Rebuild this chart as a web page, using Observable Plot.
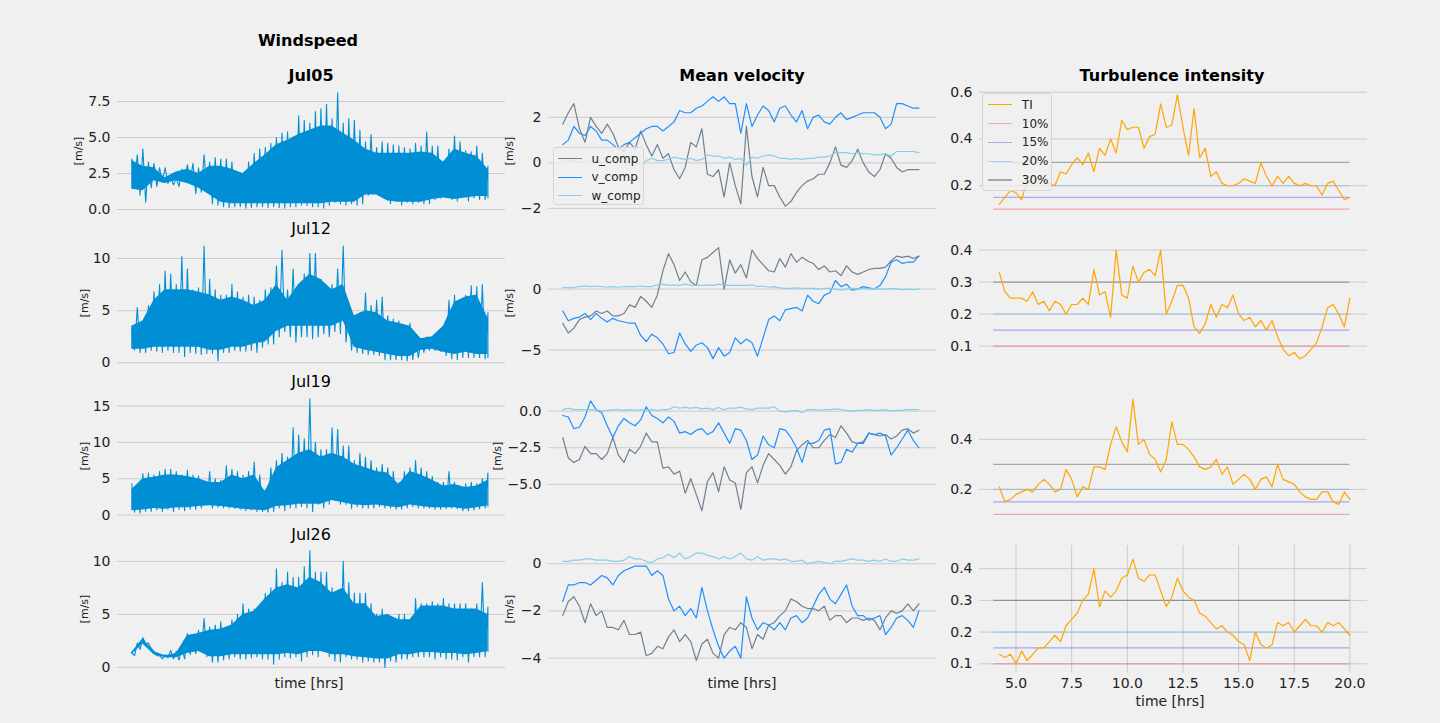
<!DOCTYPE html>
<html><head><meta charset="utf-8">
<script src="https://cdn.jsdelivr.net/npm/d3@7"></script>
<script src="https://cdn.jsdelivr.net/npm/@observablehq/plot@0.6"></script>
<style>
body{margin:0;background:#f0f0f0;}
#fig{position:relative;width:1440px;height:723px;background:#f0f0f0;font-family:"DejaVu Sans",sans-serif;overflow:hidden;}
.t{position:absolute;white-space:nowrap;transform:translate(-50%,-50%);color:#000;font-size:16px;line-height:1;}
.b{font-weight:bold;}
.xl{font-size:14px;color:#222;}
.yl{position:absolute;white-space:nowrap;transform:translate(-50%,-50%) rotate(-90deg);font-size:11px;color:#222;line-height:1;}
.leg{position:absolute;box-sizing:border-box;border:1px solid #d6d6d6;border-radius:3px;background:rgba(240,240,240,0.8);}
.sw{position:absolute;height:1.2px;}
.lt{position:absolute;font-size:12px;color:#222;transform:translateY(-50%);line-height:1;white-space:nowrap;}
</style></head>
<body><div id="fig"></div>
<script>
// ---------- data ----------
const hours = [4,4.25,4.5,4.75,5,5.25,5.5,5.75,6,6.25,6.5,6.75,7,7.25,7.5,7.75,8,8.25,8.5,8.75,9,9.25,9.5,9.75,10,10.25,10.5,10.75,11,11.25,11.5,11.75,12,12.25,12.5,12.75,13,13.25,13.5,13.75,14,14.25,14.5,14.75,15,15.25,15.5,15.75,16,16.25,16.5,16.75,17,17.25,17.5,17.75,18,18.25,18.5,18.75,19,19.25,19.5,19.75,20];
const halfHours = [4,4.5,5,5.5,6,6.5,7,7.5,8,8.5,9,9.5,10,10.5,11,11.5,12,12.5,13,13.5,14,14.5,15,15.5,16,16.5,17,17.5,18,18.5,19,19.5,20];
const days = ["Jul05","Jul12","Jul19","Jul26"];

// windspeed: extremes of the raw signal (spike tips) per quarter hour [m/s]
const ws05_hi = [3.5,3.8,4.2,3.3, 3.2,2.9,2.9,2.3, 2.2,2.8,3.1,3.2, 2.9,3.8,3.3,3.6, 3.5,3.5,3.3,2.5, 2.5,3.3,3.9,4.2, 4.3,4.6,5.0,5.3, 5.4,5.0,6.5,6.2, 6.0,6.8,7.0,7.3, 6.3,8.1,6.0,6.3, 6.2,5.5,4.7,5.2, 4.3,4.7,4.6,4.5, 4.4,4.3,4.2,4.6, 4.4,5.4,4.4,4.4, 3.3,4.2,5.1,4.7, 4.1,4.0,4.4,3.9, 3.0];
const ws05_lo = [1.8,1.0,0.5,1.5, 1.6,1.9,1.8,1.7, 1.6,2.0,2.0,1.1, 1.2,1.5,0.4,0.3, 0.2,0.15,0.2,0.2, 0.1,0.15,0.2,0.2, 0.15,0.2,0.15,0.1, 0.2,0.2,0.3,0.3, 0.2,0.2,0.1,0.3, 0.5,0.4,0.3,0.4, 0.3,0.4,1.0,1.1, 1.0,0.8,0.4,0.6, 0.3,0.5,0.4,0.5, 0.4,0.4,0.7,0.8, 0.9,0.7,0.6,1.0, 0.6,0.8,0.7,0.7, 0.8];
const ws12_hi = [3.2,5.3,4.0,5.5, 6.8,7.5,8.8,8.5, 7.5,10.2,9.0,7.0, 7.2,11.2,8.0,7.0, 6.5,6.5,7.5,6.8, 6.3,6.5,6.3,6.0, 7.0,7.2,9.3,10.8, 7.0,9.0,7.5,8.5, 10.5,10.5,8.0,7.0, 7.5,9.0,11.2,5.0, 4.5,4.8,6.7,5.5, 6.0,6.3,4.5,4.2, 4.0,3.5,3.8,2.5, 2.3,2.5,2.4,2.4, 3.2,6.0,6.5,5.5, 6.5,7.4,7.3,7.5, 4.8];
const ws12_lo = [1.2,1.0,1.0,1.2, 1.1,1.0,1.2,1.0, 1.0,0.6,1.0,0.9, 0.8,0.9,0.9,0.2, 1.0,1.0,1.2,1.1, 1.1,1.2,1.0,1.5, 1.8,1.8,2.5,3.0, 2.5,2.0,2.5,2.5, 2.3,2.5,2.8,2.5, 3.0,2.8,2.0,1.2, 1.0,0.9,0.8,0.8, 0.7,0.3,0.3,0.3, 0.3,0.2,0.3,0.5, 1.0,1.2,1.2,1.1, 0.7,0.4,0.3,0.5, 0.5,0.5,0.5,0.4, 0.5];
const ws19_hi = [4.3,3.5,5.7,5.8, 5.5,6.0,6.3,6.3, 6.0,5.5,6.2,5.5, 5.4,4.0,6.0,5.0, 4.8,6.8,6.3,6.0, 5.5,6.0,7.3,5.5, 3.5,6.5,7.5,8.5, 8.0,12.0,11.0,10.5, 16.0,10.0,9.0,9.0, 12.0,11.8,9.5,9.5, 7.5,8.5,8.0,7.5, 6.5,7.0,6.5,6.0, 4.5,6.0,6.5,7.5, 6.5,6.0,5.3,4.5, 4.5,6.0,4.5,3.5, 4.3,4.5,4.3,5.0, 5.8];
const ws19_lo = [0.4,0.3,0.5,0.5, 0.7,0.5,0.8,0.5, 0.8,0.6,0.8,0.8, 1.0,1.5,1.0,1.1, 1.0,1.0,0.9,0.8, 0.6,0.7,0.5,0.5, 0.4,0.5,1.0,0.6, 1.0,1.0,1.2,1.0, 0.5,1.5,1.0,1.5, 2.0,1.5,1.5,0.9, 1.2,1.0,1.0,1.0, 1.2,1.0,1.0,0.8, 0.8,1.0,1.2,1.0, 1.0,1.0,0.8,0.8, 0.9,1.0,0.9,0.6, 0.6,0.7,0.9,1.0, 1.2];
const ws26_hi = [1.4,2.3,2.8,2.3, 1.5,1.1,1.2,1.6, 1.5,1.9,3.2,3.0, 3.5,4.6,3.8,4.0, 4.3,3.8,4.5,5.0, 6.0,5.5,5.5,5.6, 7.0,7.5,9.3,8.0, 9.0,8.5,8.5,9.5, 11.0,9.0,9.0,9.0, 7.5,7.0,10.0,8.0, 7.0,7.0,7.0,6.0, 5.0,5.5,5.0,3.5, 5.0,5.0,4.5,6.5, 6.0,6.0,6.2,6.0, 6.5,6.0,6.0,6.0, 6.0,5.5,6.0,8.0, 5.7];
const ws26_lo = [1.1,1.7,2.2,1.8, 1.1,0.8,0.9,0.8, 0.7,0.8,1.2,1.3, 1.5,1.0,0.5,0.5, 0.7,0.8,1.0,0.8, 0.8,0.9,1.0,0.8, 0.8,0.3,0.8,1.0, 0.9,1.0,0.6,1.0, 1.2,1.0,1.5,1.0, 0.6,0.5,1.0,0.8, 0.8,0.5,0.6,0.5, 0.5,0.0,0.6,0.5, 0.8,0.8,1.0,1.0, 1.0,1.0,0.8,1.0, 0.8,0.8,0.7,1.0, 0.5,1.0,1.0,1.0, 1.5];
// windspeed: dense (solid-looking) core band per half hour [m/s]
const core05_hi = [3.4,3.0,2.9,2.2,2.6,2.8,2.5,3.0,3.0,2.8,2.5,3.2,3.8,4.5,4.8,5.2,5.5,5.8,5.8,5.3,4.8,4.2,3.9,3.9,3.9,3.9,4.0,3.9,3.3,4.2,3.9,3.7,2.8];
const core05_lo = [1.4,1.3,2.0,1.8,2.0,1.8,1.5,1.0,0.5,0.4,0.4,0.4,0.4,0.4,0.4,0.4,0.4,0.4,0.5,0.5,0.5,1.0,1.0,0.6,0.5,0.5,0.5,0.7,0.8,0.7,0.8,0.9,0.9];
const core12_hi = [3.5,4.0,6.0,7.0,7.0,7.0,6.8,6.5,6.0,6.3,6.0,5.5,6.0,7.5,6.0,7.5,8.5,8.0,7.0,7.5,4.5,5.0,4.8,4.0,3.8,3.5,2.3,2.5,3.5,5.8,6.3,6.5,4.3];
const core12_lo = [1.3,1.3,1.5,1.5,1.5,1.5,1.5,1.2,1.2,1.5,1.5,1.8,2.0,3.0,3.5,3.5,3.5,3.5,3.5,4.0,1.5,1.2,1.0,0.8,0.6,0.6,1.2,1.3,1.0,0.8,1.0,0.8,0.8];
const core19_hi = [3.5,5.0,5.2,5.5,5.5,5.3,5.0,4.5,4.5,5.5,5.0,5.5,3.2,6.5,7.5,8.5,9.0,8.0,8.5,8.0,7.0,6.5,6.0,5.8,4.2,6.0,5.5,4.8,4.0,4.2,3.8,4.0,4.8];
const core19_lo = [0.6,0.7,0.9,0.8,1.0,1.0,1.2,1.3,1.2,1.0,0.8,0.7,0.6,1.2,1.3,1.5,1.5,1.5,2.0,1.7,1.4,1.3,1.4,1.2,1.0,1.4,1.2,1.0,1.0,1.0,0.8,1.0,1.3];
const core26_hi = [1.4,2.7,1.5,1.1,1.3,3.0,3.2,3.5,3.6,4.0,5.0,5.3,6.5,7.5,7.8,7.5,8.5,8.0,7.0,7.5,6.0,6.0,4.8,5.0,4.5,4.5,5.8,5.8,5.8,5.5,5.5,5.5,5.0];
const core26_lo = [1.2,2.2,1.2,0.9,0.9,1.3,1.5,1.0,1.0,1.2,1.2,1.2,1.2,1.2,1.3,1.2,1.5,1.5,1.2,1.2,1.0,0.9,0.8,0.8,1.2,1.2,1.4,1.4,1.3,1.3,1.2,1.3,1.5];

// mean velocity components [m/s]
const u05 = [1.7,2.2,2.6,1.5, 0.9,2.0,1.6,1.3, 1.7,1.3,0.7,0.5, 0.9,0.6,1.4,0.8, 0.3,0.8,0.2,0.4, -0.3,-0.7,-0.2,0.9, 0.7,1.5,-0.5,-0.6, -0.3,-1.5,0.0,-1.0, -1.8,1.6,-0.6,-1.5, -0.2,-1.0,-1.0,-1.5, -1.9,-1.7,-1.3,-1.0, -0.8,-0.7,-0.5,-0.5, 0.0,0.7,-0.1,-0.2, 0.1,0.6,0.0,-0.4, -0.6,-0.3,0.4,0.2, -0.2,-0.4,-0.3,-0.3, -0.3];
const v05 = [0.8,1.0,1.6,1.3, 1.2,1.6,1.4,1.0, 1.0,0.8,0.6,0.8, 0.9,1.1,1.3,1.5, 1.6,1.6,1.4,1.6, 1.8,2.3,2.2,2.2, 2.4,2.5,2.7,2.9, 2.7,2.9,2.6,2.6, 1.3,2.6,1.6,2.1, 2.5,2.3,1.8,2.4, 2.5,2.1,1.8,2.3, 1.5,2.0,2.1,1.8, 1.7,2.0,2.2,1.9, 2.0,2.1,2.2,2.2, 2.2,2.0,1.5,1.7, 2.6,2.6,2.5,2.4, 2.4];
const w05 = [0.1,0.1,0.1,0.05, 0.05,0.1,0.05,0.0, 0.05,0.1,0.0,0.0, -0.1,0.05,-0.15,0.1, 0.2,0.1,0.1,0.15, 0.25,0.2,0.15,0.2, 0.1,0.15,0.35,0.3, 0.3,0.2,0.25,0.15, 0.2,-0.1,0.25,0.2, 0.3,0.35,0.3,0.2, 0.2,0.15,0.2,0.15, 0.2,0.2,0.25,0.25, 0.3,0.45,0.45,0.45, 0.4,0.45,0.4,0.4, 0.35,0.35,0.4,0.3, 0.5,0.5,0.5,0.5, 0.45];
const u12 = [-2.8,-3.6,-3.2,-2.5, -2.3,-2.2,-1.8,-2.0, -1.8,-2.2,-2.2,-2.0, -1.3,-1.5,-0.6,-1.0, -1.5,-0.5,1.5,2.9, 2.0,0.7,1.4,0.6, 0.3,2.4,2.6,3.0, 3.4,0.0,2.4,1.3, 2.0,0.9,3.2,2.5, 2.0,1.5,1.4,2.5, 1.8,2.9,2.2,2.6, 2.3,2.1,1.6,1.9, 1.4,1.5,1.1,1.9, 1.4,1.2,1.4,1.6, 1.7,1.7,1.8,2.3, 2.7,2.6,2.7,2.5, 2.7];
const v12 = [-1.8,-2.6,-2.4,-2.3, -2.0,-2.5,-2.0,-2.4, -2.7,-2.4,-2.6,-2.7, -2.8,-2.8,-3.8,-4.3, -3.7,-4.0,-4.5,-5.3, -5.2,-3.6,-4.5,-5.1, -4.6,-4.4,-4.8,-5.7, -4.8,-5.5,-5.2,-4.0, -4.5,-4.1,-4.4,-5.5, -4.0,-2.5,-2.2,-2.6, -1.7,-1.6,-1.5,-1.8, -0.5,-1.0,-1.2,-0.5, -0.3,0.7,0.2,0.4, -0.1,0.0,0.2,0.1, 0.0,0.3,1.0,2.2, 2.4,2.1,2.2,2.2, 2.7];
const w12 = [0.15,0.1,0.15,0.2, 0.25,0.2,0.25,0.2, 0.15,0.2,0.15,0.2, 0.2,0.2,0.25,0.2, 0.2,0.35,0.4,0.3, 0.35,0.3,0.4,0.3, 0.3,0.3,0.35,0.3, 0.4,0.35,0.3,0.3, 0.3,0.3,0.35,0.2, 0.25,0.15,0.2,0.1, 0.05,0.05,0.1,0.05, 0.05,0.05,0.0,0.05, 0.05,0.0,-0.1,0.0, 0.05,0.0,0.05,0.0, 0.05,0.0,0.0,0.05, 0.0,-0.05,0.0,-0.05, 0.0];
const u19 = [-1.8,-3.2,-3.5,-3.3, -2.4,-2.9,-2.9,-3.3, -2.9,-1.8,-3.0,-3.5, -2.6,-2.9,-2.4,-1.5, -2.1,-2.1,-3.9,-3.8, -4.3,-4.1,-5.6,-4.6, -5.7,-6.8,-4.8,-4.2, -5.5,-3.8,-4.7,-4.9, -6.7,-4.2,-3.8,-4.9, -3.7,-2.9,-3.3,-3.7, -4.3,-3.8,-2.7,-2.3, -2.0,-2.5,-2.5,-2.0, -1.6,-1.8,-1.0,-1.5, -2.1,-2.2,-2.1,-1.5, -1.6,-1.7,-1.6,-1.9, -1.7,-1.3,-1.2,-1.5, -1.3];
const v19 = [-0.3,-0.4,-1.2,-1.1, -0.4,0.7,0.1,-0.1, -1.0,-1.8,-1.0,-0.5, -0.8,-1.0,-0.6,0.3, -0.3,-0.5,-0.8,-0.4, -0.7,-1.5,-1.4,-1.6, -1.3,-1.2,-1.6,-1.4, -0.8,-1.5,-2.2,-1.2, -1.3,-2.0,-3.3,-3.0, -1.7,-2.3,-2.5,-1.2, -1.3,-1.8,-2.5,-3.5, -2.2,-2.2,-2.0,-1.3, -1.2,-3.6,-3.5,-2.6, -2.8,-2.2,-2.2,-1.5, -1.6,-1.5,-1.7,-3.0, -2.5,-1.9,-1.3,-2.0, -2.5];
const w19 = [0.1,0.2,0.1,0.1, 0.1,0.1,0.1,0.0, 0.05,0.1,0.1,0.05, 0.1,0.05,0.1,0.05, 0.1,0.05,0.1,0.1, 0.3,0.2,0.25,0.2, 0.25,0.15,0.2,0.1, 0.25,0.1,0.2,0.2, 0.25,0.15,0.1,0.2, 0.2,0.2,0.3,0.0, -0.05,0.0,0.05,-0.1, 0.1,0.1,0.05,0.1, 0.1,0.15,0.1,0.05, 0.0,0.05,0.05,0.1, 0.05,0.05,0.1,0.0, 0.05,0.05,0.1,0.1, 0.1];
const u26 = [-2.2,-1.6,-1.4,-1.8, -2.5,-1.7,-2.2,-2.0, -2.7,-2.7,-2.8,-2.4, -3.0,-3.0,-2.9,-3.9, -3.8,-3.5,-3.6,-3.1, -2.8,-3.3,-3.0,-3.3, -4.1,-3.4,-3.2,-3.8, -4.0,-3.0,-2.7,-2.8, -2.5,-2.7,-3.6,-3.0, -3.2,-2.6,-2.5,-2.2, -2.0,-1.5,-1.6,-1.8, -1.9,-1.9,-2.0,-1.8, -2.4,-2.2,-2.2,-2.5, -2.3,-2.3,-2.4,-2.3, -2.4,-2.8,-2.3,-2.0, -2.1,-2.0,-1.7,-2.0, -1.7];
const v26 = [-1.6,-0.9,-0.9,-0.8, -0.8,-0.9,-0.7,-0.5, -0.6,-0.9,-0.5,-0.3, -0.2,-0.1,-0.1,-0.1, -0.5,-0.3,-0.5,-1.5, -2.0,-1.8,-2.2,-1.9, -2.3,-1.0,-2.0,-2.8, -3.5,-4.0,-3.7,-3.5, -4.0,-1.4,-2.3,-2.8, -2.5,-2.6,-2.8,-2.5, -2.8,-2.3,-2.2,-2.5, -2.3,-1.8,-1.3,-1.0, -1.5,-1.7,-1.3,-0.9, -1.8,-2.2,-2.2,-2.4, -2.3,-2.2,-3.0,-2.7, -2.3,-2.2,-2.4,-2.7, -2.0];
const w26 = [0.1,0.1,0.15,0.15, 0.2,0.2,0.15,0.15, 0.15,0.1,0.1,0.15, 0.3,0.2,0.2,0.1, 0.05,0.2,0.25,0.4, 0.25,0.45,0.2,0.3, 0.45,0.45,0.35,0.3, 0.2,0.3,0.2,0.3, 0.45,0.2,0.15,0.3, 0.15,0.2,0.2,0.15, 0.2,0.1,0.1,0.15, 0.0,0.05,0.1,0.05, 0.0,0.1,0.1,0.15, 0.2,0.15,0.15,0.1, 0.15,0.1,0.2,0.1, 0.1,0.2,0.15,0.15, 0.2];

// turbulence intensity, starts at 4.25 h
const ti05 = [0.12,0.15,0.18, 0.17,0.14,0.22,0.21, 0.24,0.22,0.21,0.20, 0.26,0.25,0.29,0.32, 0.29,0.34,0.26,0.36, 0.33,0.40,0.34,0.48, 0.44,0.45,0.45,0.36, 0.41,0.42,0.55,0.45, 0.46,0.59,0.45,0.33, 0.53,0.32,0.36,0.24, 0.26,0.21,0.20,0.20, 0.21,0.23,0.22,0.21, 0.30,0.24,0.20,0.24, 0.21,0.24,0.21,0.20, 0.21,0.20,0.20,0.16, 0.21,0.22,0.18,0.14, 0.15];
const ti12 = [0.33,0.27,0.25, 0.25,0.25,0.24,0.27, 0.23,0.24,0.21,0.24, 0.23,0.20,0.23,0.23, 0.25,0.23,0.34,0.26, 0.27,0.19,0.40,0.26, 0.25,0.35,0.30,0.33, 0.34,0.32,0.40,0.20, 0.24,0.29,0.29,0.25, 0.16,0.14,0.17,0.23, 0.19,0.23,0.22,0.26, 0.20,0.18,0.19,0.16, 0.18,0.15,0.18,0.13, 0.09,0.07,0.08,0.06, 0.07,0.09,0.11,0.16, 0.22,0.23,0.20,0.16, 0.25];
const ti19 = [0.21,0.15,0.16, 0.18,0.19,0.20,0.19, 0.22,0.24,0.22,0.19, 0.20,0.28,0.24,0.17, 0.21,0.20,0.29,0.29, 0.28,0.38,0.45,0.39, 0.35,0.56,0.38,0.40, 0.34,0.32,0.27,0.32, 0.47,0.38,0.38,0.36, 0.33,0.29,0.28,0.29, 0.32,0.26,0.29,0.22, 0.24,0.26,0.24,0.20, 0.24,0.25,0.21,0.30, 0.24,0.23,0.22,0.19, 0.17,0.16,0.16,0.19, 0.19,0.15,0.14,0.19, 0.16];
const ti26 = [0.13,0.12,0.13, 0.10,0.14,0.11,0.13, 0.15,0.15,0.17,0.19, 0.17,0.22,0.24,0.26, 0.30,0.32,0.40,0.28, 0.33,0.31,0.33,0.37, 0.38,0.43,0.37,0.36, 0.38,0.38,0.33,0.28, 0.31,0.37,0.33,0.31, 0.30,0.26,0.25,0.23, 0.21,0.22,0.20,0.19, 0.17,0.16,0.11,0.20, 0.16,0.15,0.16,0.23, 0.22,0.23,0.20,0.22, 0.24,0.22,0.22,0.20, 0.23,0.22,0.23,0.21, 0.19];

const tiLevels = [0.10, 0.15, 0.20, 0.30];
const tiLabels = ["10%", "15%", "20%", "30%"];
const tiColors = ["red", "blue", "dodgerblue", "black"];
const compNames = ["u_comp", "v_comp", "w_comp"];
const compColors = ["slategray", "dodgerblue", "skyblue"];
const xTicks = [5, 7.5, 10, 12.5, 15, 17.5, 20];

// ---------- layout ----------
const fig = document.getElementById("fig");
const COLS = [117, 548, 979], W = 388;
const ROWS = [87, 239.7, 392.4, 545.1], H = 127.5;
const XD = [3.36, 20.79];

function addText(txt, x, y, cls) {
  const d = document.createElement("div");
  d.className = cls; d.textContent = txt;
  d.style.left = x + "px"; d.style.top = y + "px";
  fig.appendChild(d);
}

function panel(col, row, {yDomain, yTicks, fmt, marks, xAxis = false}) {
  const ml = 60, mr = 10, mt = 10, mb = xAxis ? 30 : 10;
  const svg = Plot.plot({
    width: W + ml + mr, height: H + mt + mb,
    marginLeft: ml, marginRight: mr, marginTop: mt, marginBottom: mb,
    x: xAxis ? {domain: XD} : {domain: XD, axis: null},
    y: {domain: yDomain, axis: null},
    style: {background: "transparent", fontFamily: "DejaVu Sans", fontSize: "14px", color: "#222", overflow: "visible"},
    marks: [
      Plot.gridY(yTicks, {stroke: "#cbcbcb", strokeOpacity: 1, strokeWidth: 1}),
      xAxis ? Plot.gridX(xTicks, {stroke: "#cbcbcb", strokeOpacity: 1, strokeWidth: 1}) : null,
      Plot.axisY(yTicks, {tickSize: 0, tickPadding: 7, tickFormat: d3.format(fmt), label: null, fontSize: 14}),
      xAxis ? Plot.axisX(xTicks, {tickSize: 0, tickPadding: 5, tickFormat: d3.format(".1f"), label: null, fontSize: 14}) : null,
      ...marks
    ]
  });
  svg.style.position = "absolute";
  svg.style.left = (COLS[col] - ml) + "px";
  svg.style.top = (ROWS[row] - mt) + "px";
  svg.style.overflow = "visible";
  fig.appendChild(svg);
}

// ---------- column 1: windspeed ----------
const wsHi = [ws05_hi, ws12_hi, ws19_hi, ws26_hi];
const wsLo = [ws05_lo, ws12_lo, ws19_lo, ws26_lo];
const coreHi = [core05_hi, core12_hi, core19_hi, core26_hi];
const coreLo = [core05_lo, core12_lo, core19_lo, core26_lo];
const wsDom = [[-0.38, 8.47], [-0.5, 11.73], [-0.67, 16.86], [-0.53, 11.5]];
const wsTicks = [[0, 2.5, 5, 7.5], [0, 5, 10], [0, 5, 10, 15], [0, 5, 10]];
const wsFmt = [".1f", "d", "d", "d"];
for (let r = 0; r < 4; r++) {
  const core = halfHours.map((t, i) => ({t, hi: coreHi[r][i], lo: coreLo[r][i]}));
  // raw signal swings: alternate spike tip (hi) and trough (lo) within each quarter hour
  const swing = hours.flatMap((t, i) => i < hours.length - 1
    ? [{t, v: wsHi[r][i]}, {t: (t + hours[i + 1]) / 2, v: wsLo[r][i]}]
    : [{t, v: wsHi[r][i]}, {t, v: wsLo[r][i]}]);
  panel(0, r, {
    yDomain: wsDom[r], yTicks: wsTicks[r], fmt: wsFmt[r],
    marks: [
      Plot.areaY(core, {x: "t", y1: "lo", y2: "hi", fill: "#008fd5"}),
      Plot.line(swing, {x: "t", y: "v", stroke: "#008fd5", strokeWidth: 1.1})
    ]
  });
}

// ---------- column 2: mean velocity ----------
const comps = [[u05, v05, w05], [u12, v12, w12], [u19, v19, w19], [u26, v26, w26]];
const mvDom = [[-2.29, 3.31], [-6.47, 3.98], [-7.43, 1.27], [-4.63, 0.77]];
const mvTicks = [[-2, 0, 2], [-5, 0], [-5, -2.5, 0], [-4, -2, 0]];
const mvFmt = ["d", "d", ".1f", "d"];
for (let r = 0; r < 4; r++) {
  const marks = comps[r].map((series, k) =>
    Plot.line(hours.map((t, i) => ({t, v: series[i]})), {x: "t", y: "v", stroke: compColors[k], strokeWidth: 1.2}));
  panel(1, r, {yDomain: mvDom[r], yTicks: mvTicks[r], fmt: mvFmt[r], marks});
}

// ---------- column 3: turbulence intensity ----------
const tis = [ti05, ti12, ti19, ti26];
const tiDom = [[0.075, 0.62], [0.0316, 0.43], [0.0776, 0.5876], [0.071, 0.473]];
const tiTicks = [[0.2, 0.4, 0.6], [0.1, 0.2, 0.3, 0.4], [0.2, 0.4], [0.1, 0.2, 0.3, 0.4]];
const tiHours = hours.slice(1);
for (let r = 0; r < 4; r++) {
  const data = tiHours.map((t, i) => ({t, v: tis[r][i]}));
  const refs = tiLevels.map((v, k) => ({v, c: tiColors[k]}));
  panel(2, r, {
    yDomain: tiDom[r], yTicks: tiTicks[r], fmt: ".1f", xAxis: r === 3,
    marks: [
      Plot.ruleY(refs, {y: "v", x1: hours[0], x2: hours[hours.length - 1], stroke: "c", strokeOpacity: 0.3, strokeWidth: 1.2}),
      Plot.line(data, {x: "t", y: "v", stroke: "orange", strokeWidth: 1.2})
    ]
  });
}

// ---------- texts ----------
addText("Windspeed", 308, 41, "t b");
addText(days[0], 311, 76, "t b");
addText("Mean velocity", 742, 76, "t b");
addText("Turbulence intensity", 1172, 76, "t b");
for (let r = 1; r < 4; r++) addText(days[r], 311, ROWS[r] - 10.5, "t");
addText("time [hrs]", 309, 683, "t xl");
addText("time [hrs]", 742, 683, "t xl");
addText("time [hrs]", 1170, 701, "t xl");
for (let r = 0; r < 4; r++) {
  const cy = ROWS[r] + H / 2;
  addText("[m/s]", r === 0 ? 78 : 84, cy, "yl");
  addText("[m/s]", r === 2 ? 497 : 509, cy, "yl");
}

// ---------- legends ----------
function legend(left, top, w, h, names, colors, handleX, textX, firstY, step) {
  const box = document.createElement("div");
  box.className = "leg";
  Object.assign(box.style, {left: left + "px", top: top + "px", width: w + "px", height: h + "px"});
  names.forEach((n, k) => {
    const y = firstY + k * step;
    const sw = document.createElement("div");
    sw.className = "sw";
    Object.assign(sw.style, {left: handleX + "px", width: "24px", top: (y - 0.6) + "px", background: colors[k]});
    box.appendChild(sw);
    const tx = document.createElement("div");
    tx.className = "lt"; tx.textContent = n;
    Object.assign(tx.style, {left: textX + "px", top: y + "px"});
    box.appendChild(tx);
  });
  fig.appendChild(box);
}
legend(552.5, 147.3, 91.5, 58, compNames, compColors, 4, 38, 10.5, 18.5);
const tiLegColors = ["orange", "rgba(255,0,0,0.3)", "rgba(0,0,255,0.3)", "rgba(30,144,255,0.3)", "rgba(0,0,0,0.3)"];
legend(982.3, 93.3, 70, 97.4, ["TI", ...tiLabels], tiLegColors, 5, 38.5, 10.5, 18.8);
</script>
</body></html>
